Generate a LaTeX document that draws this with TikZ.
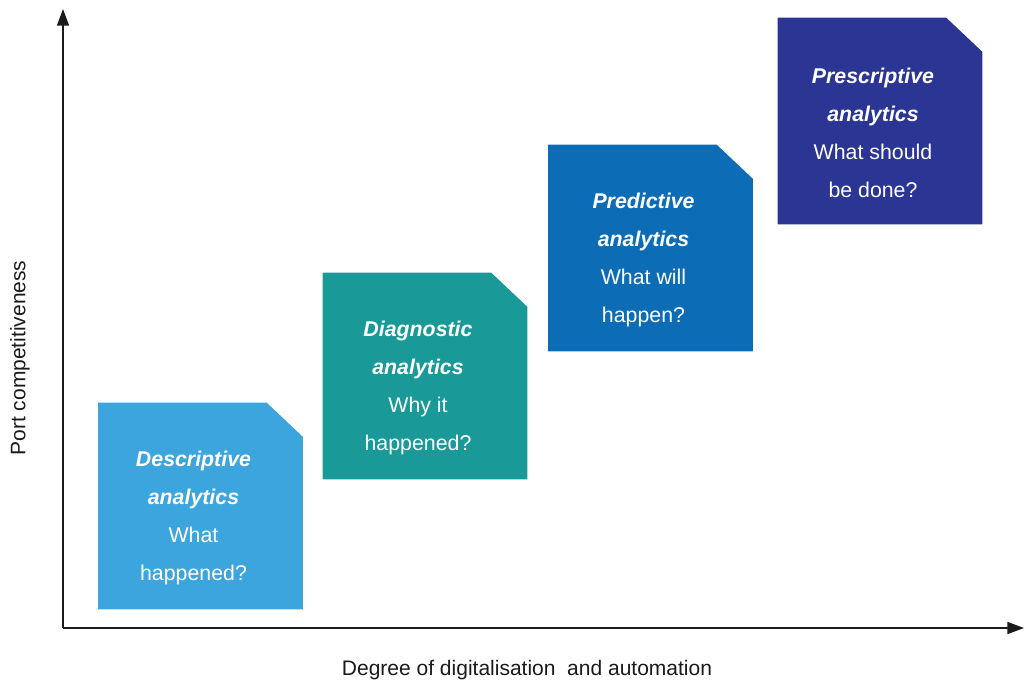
\documentclass[tikz,border=0pt]{standalone}
\usepackage{fontspec}
\setmainfont{Liberation Sans}
\usetikzlibrary{calc,arrows.meta}
\definecolor{andesc}{HTML}{3DA5DE}
\definecolor{andiag}{HTML}{1A9999}
\definecolor{anpred}{HTML}{0C6CB6}
\definecolor{anpresc}{HTML}{2A3594}
\definecolor{axisgray}{HTML}{1A1A1A}

\tikzset{
    stage/.style={minimum width=153pt, minimum height=154.5pt, inner sep=0pt},
    stagetext/.style={text=white, align=center, inner sep=0pt,
        font=\fontsize{16pt}{28.5pt}\selectfont},
    axislabel/.style={text=axisgray, inner sep=0pt,
        font=\fontsize{15.75pt}{18pt}\selectfont}
}

\begin{document}
\begin{tikzpicture}[x=0.75pt, y=-0.75pt]
        \useasboundingbox (0,0) rectangle (1024,683);

        % Axes
        \coordinate (origin) at (63,628);
        \coordinate (ytip) at (63,9);
        \coordinate (xtip) at (1024,628);
        \draw[color=axisgray, line width=1.1pt, -{Triangle[length=12.5pt, width=9pt]}] (origin) -- (ytip);
        \draw[color=axisgray, line width=1.1pt, -{Triangle[length=12.5pt, width=9pt]}] (origin) -- (xtip);
        \node[axislabel, rotate=90] (ylabel) at (20,358) {Port competitiveness};
        \node[axislabel] (xlabel) at (527,670) {Degree of digitalisation\ \ and automation};

        % ----------------------------------------------------
        % DESCRIPTIVE
        % ----------------------------------------------------
        \node[stage] (descbox) at (200.5,506) {};
        \fill[andesc] (descbox.south west) -- (descbox.north west) -- ($(descbox.north east)+(-36,0)$)
            -- ($(descbox.north east)+(0,34)$) -- (descbox.south east) -- cycle;
        \node[stagetext] (desctext) at ($(descbox.center)+(-7,12)$) {
            \textbf{\textit{Descriptive}}\\ \textbf{\textit{analytics}}\\ What\\ happened?
        };

        % ----------------------------------------------------
        % DIAGNOSTIC
        % ----------------------------------------------------
        \node[stage] (diagbox) at (425,376) {};
        \fill[andiag] (diagbox.south west) -- (diagbox.north west) -- ($(diagbox.north east)+(-36,0)$)
            -- ($(diagbox.north east)+(0,34)$) -- (diagbox.south east) -- cycle;
        \node[stagetext] (diagtext) at ($(diagbox.center)+(-7,12)$) {
            \textbf{\textit{Diagnostic}}\\ \textbf{\textit{analytics}}\\ Why it\\ happened?
        };

        % ----------------------------------------------------
        % PREDICTIVE
        % ----------------------------------------------------
        \node[stage] (predbox) at (650.5,248) {};
        \fill[anpred] (predbox.south west) -- (predbox.north west) -- ($(predbox.north east)+(-36,0)$)
            -- ($(predbox.north east)+(0,34)$) -- (predbox.south east) -- cycle;
        \node[stagetext] (predtext) at ($(predbox.center)+(-7,12)$) {
            \textbf{\textit{Predictive}}\\ \textbf{\textit{analytics}}\\ What will\\ happen?
        };

        % ----------------------------------------------------
        % PRESCRIPTIVE
        % ----------------------------------------------------
        \node[stage] (prescbox) at (880,121) {};
        \fill[anpresc] (prescbox.south west) -- (prescbox.north west) -- ($(prescbox.north east)+(-36,0)$)
            -- ($(prescbox.north east)+(0,34)$) -- (prescbox.south east) -- cycle;
        \node[stagetext] (presctext) at ($(prescbox.center)+(-7,12)$) {
            \textbf{\textit{Prescriptive}}\\ \textbf{\textit{analytics}}\\ What should\\ be done?
        };
    \end{tikzpicture}
\end{document}
